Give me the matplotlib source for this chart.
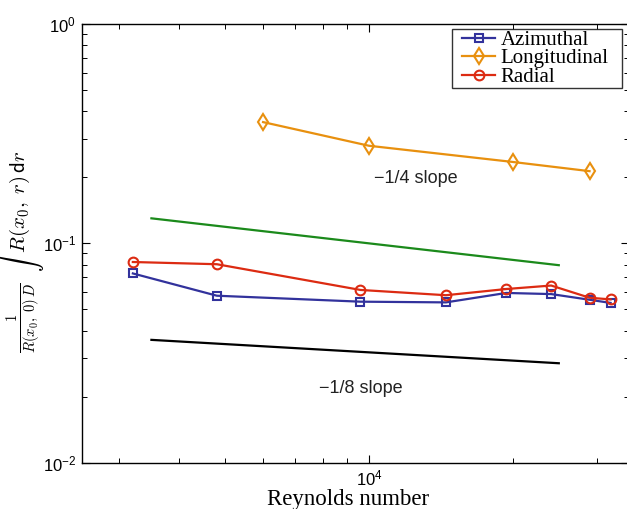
import matplotlib
matplotlib.use("Agg")
import matplotlib.pyplot as plt
from matplotlib.ticker import LogLocator, NullFormatter
from matplotlib.legend_handler import HandlerLine2D

# ---- data ----
re_az = [3200, 4800, 9600, 14500, 19400, 24100, 29000, 32100]
val_az = [0.0729, 0.0577, 0.0542, 0.0538, 0.0594, 0.0587, 0.0553, 0.0535]
re_rad = [3200, 4800, 9600, 14500, 19400, 24100, 29000, 32100]
val_rad = [0.0822, 0.0803, 0.0613, 0.0580, 0.0619, 0.0642, 0.0565, 0.0555]
re_lon = [6000, 10000, 20000, 29000]
val_lon = [0.357, 0.2785, 0.235, 0.2133]
slope_x = [3500, 25000]
slope_quarter = [0.130, 0.0795]
slope_eighth = [0.0363, 0.0284]
labels = ["Azimuthal", "Longitudinal", "Radial"]

plt.rcParams['font.family'] = ['Liberation Sans', 'DejaVu Sans']


class InsetLineHandler(HandlerLine2D):
    """Legend line handler that leaves a small gap on the left of the handle."""
    def __init__(self, inset=0.45, **kw):
        super().__init__(**kw)
        self.inset = inset

    def create_artists(self, legend, orig_handle, xdescent, ydescent, width,
                       height, fontsize, trans):
        d = self.inset * fontsize
        return super().create_artists(legend, orig_handle, xdescent - d,
                                      ydescent, width - d, height, fontsize,
                                      trans)


fig = plt.figure(figsize=(6.27, 5.09), dpi=100)
ax = fig.add_axes([0.1303, 0.0910, 0.8721, 0.8619])

c_az = '#32329c'
c_lon = '#e8900f'
c_rad = '#dc2b12'

l1, = ax.plot(re_az, val_az, '-', color=c_az, lw=1.6, marker='s', ms=5.5,
              mfc='none', mec=c_az, mew=1.5, label=labels[0])
l2, = ax.plot(re_lon, val_lon, '-', color=c_lon, lw=1.6, marker='d', ms=8,
              mfc='none', mec=c_lon, mew=1.5, label=labels[1])
l3, = ax.plot(re_rad, val_rad, '-', color=c_rad, lw=1.6, marker='o', ms=7,
              mfc='none', mec=c_rad, mew=1.5, label=labels[2])
ax.plot(slope_x, slope_quarter, '-', color='#1b8a1b', lw=1.6)
ax.plot(slope_x, slope_eighth, '-', color='black', lw=1.6)

ax.text(12530, 0.197, '\u22121/4 slope', ha='center', va='center', fontsize=13,
        color='#222222')
ax.text(9630, 0.0219, '\u22121/8 slope', ha='center', va='center', fontsize=13,
        color='#222222')

ax.set_xscale('log')
ax.set_yscale('log')
ax.set_xlim(2500, 35000)
ax.set_ylim(0.01, 1)

ax.xaxis.set_major_locator(LogLocator(base=10, numticks=10))
ax.xaxis.set_minor_locator(LogLocator(base=10, subs=range(2, 10), numticks=20))
ax.xaxis.set_minor_formatter(NullFormatter())
ax.yaxis.set_minor_locator(LogLocator(base=10, subs=range(2, 10), numticks=20))
ax.yaxis.set_minor_formatter(NullFormatter())

ax.tick_params(which='both', direction='in', top=True, right=True,
               labelsize=12, colors='black')
ax.tick_params(which='major', length=6, width=0.8, pad=4)
ax.tick_params(which='minor', length=3.5, width=0.7)
for s in ax.spines.values():
    s.set_linewidth(1.0)

ax.set_xlabel('Reynolds number', family='Liberation Serif', fontsize=16.5)
ax.xaxis.set_label_coords(0.487, -0.061)
ylab = ax.set_ylabel(
    r'$\frac{1}{R(x_0,\;0)\,D}\;\;\int\;\, R(x_0,\;r)\,\mathsf{d}r$',
    fontsize=15)
ylab.set_math_fontfamily('cm')
ax.yaxis.set_label_coords(-0.066, 0.48)

h = InsetLineHandler(inset=0.43)
leg = ax.legend(handles=[l1, l2, l3], loc='upper right',
                bbox_to_anchor=(0.6772, 0.5, 0.3108, 0.488), mode='expand',
                borderaxespad=0, prop={'family': 'Liberation Serif', 'size': 15},
                frameon=True, fancybox=False, edgecolor='black',
                labelspacing=-0.05, handlelength=2.02, handletextpad=0.25,
                borderpad=0.05, handler_map={l1: h, l2: h, l3: h})
leg.get_frame().set_linewidth(1.0)

fig.savefig('out.png', dpi=100)
